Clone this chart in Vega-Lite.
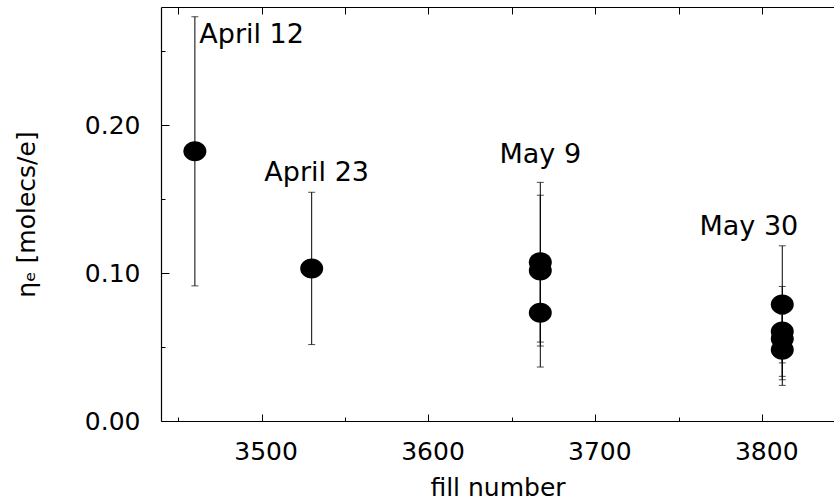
{
  "$schema": "https://vega.github.io/schema/vega-lite/v6.json",
  "autosize": "none",
  "width": 673,
  "height": 414,
  "padding": {"left": 161, "top": 7, "right": 0, "bottom": 83},
  "background": "white",
  "config": {
    "view": {"stroke": null},
    "axis": {
      "labelFont": "DejaVu Sans",
      "labelFontSize": 25,
      "labelColor": "black",
      "titleFont": "DejaVu Sans",
      "titleFontSize": 25,
      "titleFontWeight": "normal",
      "titleColor": "black",
      "domainColor": "black",
      "domainWidth": 1.2,
      "tickColor": "black",
      "tickWidth": 1,
      "grid": false
    },
    "text": {"font": "DejaVu Sans"}
  },
  "datasets": {
    "pts": [
      {"fill": 3460, "eta": 0.1824, "lo": 0.0914, "hi": 0.2734},
      {"fill": 3530, "eta": 0.1032, "lo": 0.0517, "hi": 0.1547},
      {"fill": 3667, "eta": 0.1074, "lo": 0.0534, "hi": 0.1614},
      {"fill": 3667, "eta": 0.1018, "lo": 0.0507, "hi": 0.1527},
      {"fill": 3667, "eta": 0.0732, "lo": 0.0365, "hi": 0.1100},
      {"fill": 3812, "eta": 0.0788, "lo": 0.0393, "hi": 0.1185},
      {"fill": 3812, "eta": 0.0606, "lo": 0.0302, "hi": 0.0910},
      {"fill": 3812, "eta": 0.0557, "lo": 0.0279, "hi": 0.0836},
      {"fill": 3812, "eta": 0.0482, "lo": 0.0241, "hi": 0.0723}
    ],
    "labels": [
      {"fill": 3494, "eta": 0.2556, "text": "April 12"},
      {"fill": 3533, "eta": 0.1626, "text": "April 23"},
      {"fill": 3667, "eta": 0.1745, "text": "May 9"},
      {"fill": 3792, "eta": 0.1255, "text": "May 30"}
    ]
  },
  "resolve": {"axis": {"x": "independent"}},
  "layer": [
    {
      "data": {"name": "pts"},
      "mark": {"type": "rule", "color": "black", "strokeWidth": 1},
      "encoding": {
        "x": {
          "field": "fill", "type": "quantitative",
          "scale": {"domain": [3439.7, 3843], "nice": false, "zero": false},
          "axis": {
            "orient": "bottom",
            "title": "fill number",
            "values": [3450, 3500, 3550, 3600, 3650, 3700, 3750, 3800],
            "format": "d",
            "tickSize": {"condition": {"test": "datum.value % 100 === 0", "value": -7}, "value": -4},
            "labelExpr": "datum.value % 100 === 0 ? datum.label : ''",
            "labelPadding": 25,
            "labelOffset": 4,
            "titlePadding": 11
          }
        },
        "y": {
          "field": "lo", "type": "quantitative",
          "scale": {"domain": [0, 0.28], "nice": false},
          "axis": {
            "orient": "left",
            "title": "ηₑ [molecs/e]",
            "values": [0, 0.05, 0.1, 0.15, 0.2, 0.25],
            "format": ".2f",
            "tickSize": {"condition": {"test": "round(datum.value * 100) % 10 === 0", "value": -8}, "value": -4},
            "labelExpr": "round(datum.value * 100) % 10 === 0 ? datum.label : ''",
            "labelPadding": 29,
            "titlePadding": 45
          }
        },
        "y2": {"field": "hi"}
      }
    },
    {
      "data": {"name": "pts"},
      "mark": {"type": "tick", "orient": "horizontal", "color": "black", "size": 7, "thickness": 1},
      "encoding": {
        "x": {"field": "fill", "type": "quantitative", "axis": null},
        "y": {"field": "lo", "type": "quantitative"}
      }
    },
    {
      "data": {"name": "pts"},
      "mark": {"type": "tick", "orient": "horizontal", "color": "black", "size": 7, "thickness": 1},
      "encoding": {
        "x": {"field": "fill", "type": "quantitative", "axis": null},
        "y": {"field": "hi", "type": "quantitative"}
      }
    },
    {
      "data": {"name": "pts"},
      "mark": {"type": "point", "filled": true, "color": "black", "opacity": 1, "size": 400,
               "shape": "M-1.15,0A1.15,1,0,1,0,1.15,0A1.15,1,0,1,0,-1.15,0Z"},
      "encoding": {
        "x": {
          "field": "fill", "type": "quantitative",
          "axis": {
            "orient": "top",
            "title": null,
            "labels": false,
            "values": [3450, 3500, 3550, 3600, 3650, 3700, 3750, 3800],
            "tickSize": -7
          }
        },
        "y": {"field": "eta", "type": "quantitative"}
      }
    },
    {
      "data": {"name": "labels"},
      "mark": {"type": "text", "fontSize": 27, "color": "black", "align": "center", "baseline": "alphabetic"},
      "encoding": {
        "x": {"field": "fill", "type": "quantitative", "axis": null},
        "y": {"field": "eta", "type": "quantitative"},
        "text": {"field": "text"}
      }
    }
  ]
}
